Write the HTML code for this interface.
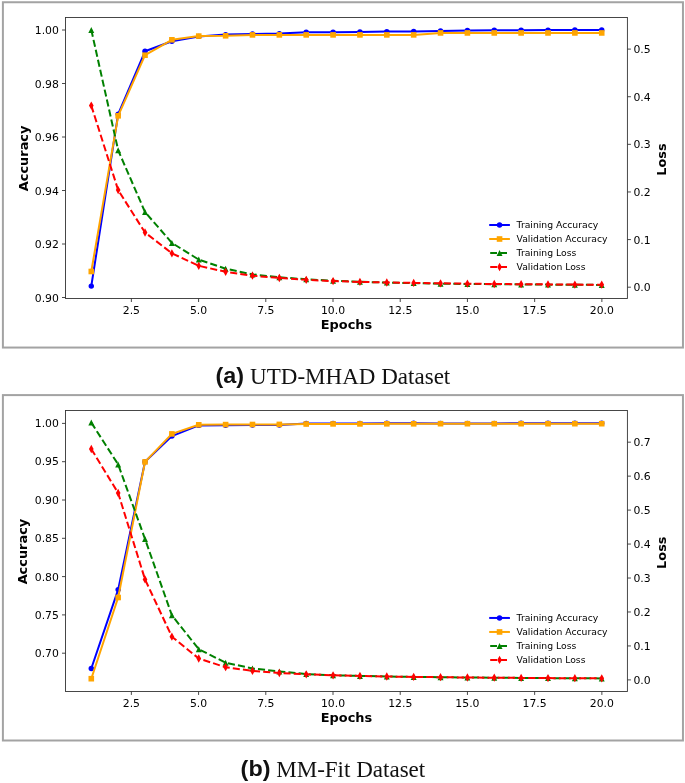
<!DOCTYPE html>
<html><head><meta charset="utf-8"><title>Training curves</title>
<style>
html,body{margin:0;padding:0;background:#fff}
svg{display:block}
.t{font-family:"DejaVu Sans","Liberation Sans",sans-serif;font-size:10.85px;fill:#000}
.g{font-family:"DejaVu Sans","Liberation Sans",sans-serif;font-size:9.25px;fill:#000}
.l{font-family:"DejaVu Sans","Liberation Sans",sans-serif;font-size:12.9px;font-weight:bold;fill:#000}
.cb{font-family:"Liberation Sans",sans-serif;font-weight:bold;font-size:21.7px;fill:#111}
.cs{font-family:"Liberation Serif",serif;font-size:23.05px;fill:#111}
</style></head><body>
<svg width="685" height="783" viewBox="0 0 685 783">
<rect width="685" height="783" fill="#fff"/>
<rect x="2.9" y="2.25" width="680.05" height="345.3" fill="#fff" stroke="#a3a3a3" stroke-width="2"/>
<rect x="65.5" y="17.5" width="561.90" height="281.00" fill="none" stroke="#333" stroke-width="0.9"/>
<text x="131.37" y="313.75" text-anchor="middle" class="t">2.5</text>
<text x="198.58" y="313.75" text-anchor="middle" class="t">5.0</text>
<text x="265.79" y="313.75" text-anchor="middle" class="t">7.5</text>
<text x="333.01" y="313.75" text-anchor="middle" class="t">10.0</text>
<text x="400.22" y="313.75" text-anchor="middle" class="t">12.5</text>
<text x="467.43" y="313.75" text-anchor="middle" class="t">15.0</text>
<text x="534.65" y="313.75" text-anchor="middle" class="t">17.5</text>
<text x="601.86" y="313.75" text-anchor="middle" class="t">20.0</text>
<text x="58.90" y="34.10" text-anchor="end" class="t">1.00</text>
<text x="58.90" y="87.60" text-anchor="end" class="t">0.98</text>
<text x="58.90" y="141.10" text-anchor="end" class="t">0.96</text>
<text x="58.90" y="194.60" text-anchor="end" class="t">0.94</text>
<text x="58.90" y="248.10" text-anchor="end" class="t">0.92</text>
<text x="58.90" y="301.60" text-anchor="end" class="t">0.90</text>
<text x="633.40" y="291.30" class="t">0.0</text>
<text x="633.40" y="243.68" class="t">0.1</text>
<text x="633.40" y="196.06" class="t">0.2</text>
<text x="633.40" y="148.44" class="t">0.3</text>
<text x="633.40" y="100.82" class="t">0.4</text>
<text x="633.40" y="53.20" class="t">0.5</text>
<path d="M131.37 298.5v3.5 M198.58 298.5v3.5 M265.79 298.5v3.5 M333.01 298.5v3.5 M400.22 298.5v3.5 M467.43 298.5v3.5 M534.65 298.5v3.5 M601.86 298.5v3.5 M65.5 30.00h-3.5 M65.5 83.50h-3.5 M65.5 137.00h-3.5 M65.5 190.50h-3.5 M65.5 244.00h-3.5 M65.5 297.50h-3.5 M627.4 287.20h3.5 M627.4 239.58h3.5 M627.4 191.96h3.5 M627.4 144.34h3.5 M627.4 96.72h3.5 M627.4 49.10h3.5" stroke="#333" stroke-width="0.9" fill="none"/>
<text x="346.45" y="329.05" text-anchor="middle" class="l">Epochs</text>
<text transform="translate(27.6 158.40) rotate(-90)" text-anchor="middle" class="l">Accuracy</text>
<text transform="translate(665.7 159.50) rotate(-90)" text-anchor="middle" class="l">Loss</text>
<path d="M91.29 286.10 L118.16 114.10 L145.02 51.30 L171.89 41.30 L198.75 36.40 L225.62 34.60 L252.48 33.90 L279.35 33.60 L306.21 32.20 L333.08 32.20 L359.94 32.00 L386.81 31.60 L413.67 31.40 L440.54 31.00 L467.40 30.50 L494.27 30.30 L521.13 30.20 L548.00 30.10 L574.86 30.05 L601.73 30.05" fill="none" stroke="#0000ff" stroke-width="2.0" stroke-linejoin="round"/>
<circle cx="91.29" cy="286.10" r="2.72" fill="#0000ff"/>
<circle cx="118.16" cy="114.10" r="2.72" fill="#0000ff"/>
<circle cx="145.02" cy="51.30" r="2.72" fill="#0000ff"/>
<circle cx="171.89" cy="41.30" r="2.72" fill="#0000ff"/>
<circle cx="198.75" cy="36.40" r="2.72" fill="#0000ff"/>
<circle cx="225.62" cy="34.60" r="2.72" fill="#0000ff"/>
<circle cx="252.48" cy="33.90" r="2.72" fill="#0000ff"/>
<circle cx="279.35" cy="33.60" r="2.72" fill="#0000ff"/>
<circle cx="306.21" cy="32.20" r="2.72" fill="#0000ff"/>
<circle cx="333.08" cy="32.20" r="2.72" fill="#0000ff"/>
<circle cx="359.94" cy="32.00" r="2.72" fill="#0000ff"/>
<circle cx="386.81" cy="31.60" r="2.72" fill="#0000ff"/>
<circle cx="413.67" cy="31.40" r="2.72" fill="#0000ff"/>
<circle cx="440.54" cy="31.00" r="2.72" fill="#0000ff"/>
<circle cx="467.40" cy="30.50" r="2.72" fill="#0000ff"/>
<circle cx="494.27" cy="30.30" r="2.72" fill="#0000ff"/>
<circle cx="521.13" cy="30.20" r="2.72" fill="#0000ff"/>
<circle cx="548.00" cy="30.10" r="2.72" fill="#0000ff"/>
<circle cx="574.86" cy="30.05" r="2.72" fill="#0000ff"/>
<circle cx="601.73" cy="30.05" r="2.72" fill="#0000ff"/>
<path d="M91.29 271.50 L118.16 115.80 L145.02 55.20 L171.89 39.80 L198.75 36.10 L225.62 35.80 L252.48 34.90 L279.35 34.90 L306.21 34.90 L333.08 34.90 L359.94 34.90 L386.81 34.90 L413.67 34.90 L440.54 32.95 L467.40 32.95 L494.27 32.95 L521.13 32.95 L548.00 32.95 L574.86 32.95 L601.73 32.95" fill="none" stroke="#ffa500" stroke-width="2.0" stroke-linejoin="round"/>
<rect x="88.49" y="268.70" width="5.6" height="5.6" fill="#ffa500"/>
<rect x="115.36" y="113.00" width="5.6" height="5.6" fill="#ffa500"/>
<rect x="142.22" y="52.40" width="5.6" height="5.6" fill="#ffa500"/>
<rect x="169.09" y="37.00" width="5.6" height="5.6" fill="#ffa500"/>
<rect x="195.95" y="33.30" width="5.6" height="5.6" fill="#ffa500"/>
<rect x="222.82" y="33.00" width="5.6" height="5.6" fill="#ffa500"/>
<rect x="249.68" y="32.10" width="5.6" height="5.6" fill="#ffa500"/>
<rect x="276.55" y="32.10" width="5.6" height="5.6" fill="#ffa500"/>
<rect x="303.41" y="32.10" width="5.6" height="5.6" fill="#ffa500"/>
<rect x="330.28" y="32.10" width="5.6" height="5.6" fill="#ffa500"/>
<rect x="357.14" y="32.10" width="5.6" height="5.6" fill="#ffa500"/>
<rect x="384.01" y="32.10" width="5.6" height="5.6" fill="#ffa500"/>
<rect x="410.87" y="32.10" width="5.6" height="5.6" fill="#ffa500"/>
<rect x="437.74" y="30.15" width="5.6" height="5.6" fill="#ffa500"/>
<rect x="464.60" y="30.15" width="5.6" height="5.6" fill="#ffa500"/>
<rect x="491.47" y="30.15" width="5.6" height="5.6" fill="#ffa500"/>
<rect x="518.33" y="30.15" width="5.6" height="5.6" fill="#ffa500"/>
<rect x="545.20" y="30.15" width="5.6" height="5.6" fill="#ffa500"/>
<rect x="572.06" y="30.15" width="5.6" height="5.6" fill="#ffa500"/>
<rect x="598.93" y="30.15" width="5.6" height="5.6" fill="#ffa500"/>
<path d="M91.29 29.90 L118.16 150.30 L145.02 212.00 L171.89 242.90 L198.75 259.60 L225.62 268.70 L252.48 274.40 L279.35 277.30 L306.21 279.30 L333.08 280.80 L359.94 281.80 L386.81 282.60 L413.67 283.10 L440.54 283.70 L467.40 284.00 L494.27 284.20 L521.13 284.40 L548.00 284.60 L574.86 284.80 L601.73 284.90" fill="none" stroke="#008000" stroke-width="2.0" stroke-linejoin="round" stroke-dasharray="7.1 3.1"/>
<path d="M91.29 26.90L88.34 32.90H94.24Z" fill="#008000"/>
<path d="M118.16 147.30L115.21 153.30H121.11Z" fill="#008000"/>
<path d="M145.02 209.00L142.07 215.00H147.97Z" fill="#008000"/>
<path d="M171.89 239.90L168.94 245.90H174.84Z" fill="#008000"/>
<path d="M198.75 256.60L195.80 262.60H201.70Z" fill="#008000"/>
<path d="M225.62 265.70L222.67 271.70H228.57Z" fill="#008000"/>
<path d="M252.48 271.40L249.53 277.40H255.43Z" fill="#008000"/>
<path d="M279.35 274.30L276.40 280.30H282.30Z" fill="#008000"/>
<path d="M306.21 276.30L303.26 282.30H309.16Z" fill="#008000"/>
<path d="M333.08 277.80L330.13 283.80H336.03Z" fill="#008000"/>
<path d="M359.94 278.80L356.99 284.80H362.89Z" fill="#008000"/>
<path d="M386.81 279.60L383.86 285.60H389.76Z" fill="#008000"/>
<path d="M413.67 280.10L410.72 286.10H416.62Z" fill="#008000"/>
<path d="M440.54 280.70L437.59 286.70H443.49Z" fill="#008000"/>
<path d="M467.40 281.00L464.45 287.00H470.35Z" fill="#008000"/>
<path d="M494.27 281.20L491.32 287.20H497.22Z" fill="#008000"/>
<path d="M521.13 281.40L518.18 287.40H524.08Z" fill="#008000"/>
<path d="M548.00 281.60L545.05 287.60H550.95Z" fill="#008000"/>
<path d="M574.86 281.80L571.91 287.80H577.81Z" fill="#008000"/>
<path d="M601.73 281.90L598.78 287.90H604.68Z" fill="#008000"/>
<path d="M91.29 105.60 L118.16 190.10 L145.02 232.50 L171.89 253.30 L198.75 265.80 L225.62 271.80 L252.48 275.70 L279.35 278.00 L306.21 279.80 L333.08 281.10 L359.94 281.90 L386.81 282.50 L413.67 282.90 L440.54 283.30 L467.40 283.70 L494.27 284.00 L521.13 284.20 L548.00 284.40 L574.86 284.60 L601.73 284.70" fill="none" stroke="#ff0000" stroke-width="2.0" stroke-linejoin="round" stroke-dasharray="7.1 3.1"/>
<path d="M91.29 101.45L88.94 105.60L91.29 109.75L93.64 105.60Z" fill="#ff0000"/>
<path d="M118.16 185.95L115.81 190.10L118.16 194.25L120.51 190.10Z" fill="#ff0000"/>
<path d="M145.02 228.35L142.67 232.50L145.02 236.65L147.37 232.50Z" fill="#ff0000"/>
<path d="M171.89 249.15L169.54 253.30L171.89 257.45L174.24 253.30Z" fill="#ff0000"/>
<path d="M198.75 261.65L196.40 265.80L198.75 269.95L201.10 265.80Z" fill="#ff0000"/>
<path d="M225.62 267.65L223.27 271.80L225.62 275.95L227.97 271.80Z" fill="#ff0000"/>
<path d="M252.48 271.55L250.13 275.70L252.48 279.85L254.83 275.70Z" fill="#ff0000"/>
<path d="M279.35 273.85L277.00 278.00L279.35 282.15L281.70 278.00Z" fill="#ff0000"/>
<path d="M306.21 275.65L303.86 279.80L306.21 283.95L308.56 279.80Z" fill="#ff0000"/>
<path d="M333.08 276.95L330.73 281.10L333.08 285.25L335.43 281.10Z" fill="#ff0000"/>
<path d="M359.94 277.75L357.59 281.90L359.94 286.05L362.29 281.90Z" fill="#ff0000"/>
<path d="M386.81 278.35L384.46 282.50L386.81 286.65L389.16 282.50Z" fill="#ff0000"/>
<path d="M413.67 278.75L411.32 282.90L413.67 287.05L416.02 282.90Z" fill="#ff0000"/>
<path d="M440.54 279.15L438.19 283.30L440.54 287.45L442.89 283.30Z" fill="#ff0000"/>
<path d="M467.40 279.55L465.05 283.70L467.40 287.85L469.75 283.70Z" fill="#ff0000"/>
<path d="M494.27 279.85L491.92 284.00L494.27 288.15L496.62 284.00Z" fill="#ff0000"/>
<path d="M521.13 280.05L518.78 284.20L521.13 288.35L523.48 284.20Z" fill="#ff0000"/>
<path d="M548.00 280.25L545.65 284.40L548.00 288.55L550.35 284.40Z" fill="#ff0000"/>
<path d="M574.86 280.45L572.51 284.60L574.86 288.75L577.21 284.60Z" fill="#ff0000"/>
<path d="M601.73 280.55L599.38 284.70L601.73 288.85L604.08 284.70Z" fill="#ff0000"/>
<path d="M489.20 225.00H509.90" stroke="#0000ff" stroke-width="2.0"/>
<circle cx="499.55" cy="225.00" r="2.72" fill="#0000ff"/>
<text x="516.6" y="228.30" class="g">Training Accuracy</text>
<path d="M489.20 239.00H509.90" stroke="#ffa500" stroke-width="2.0"/>
<rect x="496.75" y="236.20" width="5.6" height="5.6" fill="#ffa500"/>
<text x="516.6" y="242.30" class="g">Validation Accuracy</text>
<path d="M490.20 253.00H508.90" stroke="#008000" stroke-width="2.0" stroke-dasharray="6.8 3.2"/>
<path d="M499.55 250.00L496.60 256.00H502.50Z" fill="#008000"/>
<text x="516.6" y="256.30" class="g">Training Loss</text>
<path d="M490.20 267.00H508.90" stroke="#ff0000" stroke-width="2.0" stroke-dasharray="6.8 3.2"/>
<path d="M499.55 262.85L497.20 267.00L499.55 271.15L501.90 267.00Z" fill="#ff0000"/>
<text x="516.6" y="270.30" class="g">Validation Loss</text>
<text transform="translate(215.5 383.3) scale(1.078 1)" class="cb">(a)</text><text transform="translate(250.1 384.3) scale(1 1.03)" class="cs">UTD-MHAD Dataset</text>
<rect x="2.9" y="395.1" width="680.05" height="345.4" fill="#fff" stroke="#a3a3a3" stroke-width="2"/>
<rect x="65.5" y="410.5" width="561.90" height="280.95" fill="none" stroke="#333" stroke-width="0.9"/>
<text x="131.37" y="706.95" text-anchor="middle" class="t">2.5</text>
<text x="198.58" y="706.95" text-anchor="middle" class="t">5.0</text>
<text x="265.79" y="706.95" text-anchor="middle" class="t">7.5</text>
<text x="333.01" y="706.95" text-anchor="middle" class="t">10.0</text>
<text x="400.22" y="706.95" text-anchor="middle" class="t">12.5</text>
<text x="467.43" y="706.95" text-anchor="middle" class="t">15.0</text>
<text x="534.65" y="706.95" text-anchor="middle" class="t">17.5</text>
<text x="601.86" y="706.95" text-anchor="middle" class="t">20.0</text>
<text x="58.90" y="426.90" text-anchor="end" class="t">1.00</text>
<text x="58.90" y="465.40" text-anchor="end" class="t">0.95</text>
<text x="58.90" y="504.10" text-anchor="end" class="t">0.90</text>
<text x="58.90" y="542.40" text-anchor="end" class="t">0.85</text>
<text x="58.90" y="580.70" text-anchor="end" class="t">0.80</text>
<text x="58.90" y="619.00" text-anchor="end" class="t">0.75</text>
<text x="58.90" y="657.30" text-anchor="end" class="t">0.70</text>
<text x="633.40" y="684.00" class="t">0.0</text>
<text x="633.40" y="650.04" class="t">0.1</text>
<text x="633.40" y="616.08" class="t">0.2</text>
<text x="633.40" y="582.12" class="t">0.3</text>
<text x="633.40" y="548.16" class="t">0.4</text>
<text x="633.40" y="514.20" class="t">0.5</text>
<text x="633.40" y="480.24" class="t">0.6</text>
<text x="633.40" y="446.28" class="t">0.7</text>
<path d="M131.37 691.45v3.5 M198.58 691.45v3.5 M265.79 691.45v3.5 M333.01 691.45v3.5 M400.22 691.45v3.5 M467.43 691.45v3.5 M534.65 691.45v3.5 M601.86 691.45v3.5 M65.5 423.40h-3.5 M65.5 461.70h-3.5 M65.5 500.00h-3.5 M65.5 538.30h-3.5 M65.5 576.60h-3.5 M65.5 614.90h-3.5 M65.5 653.20h-3.5 M627.4 679.90h3.5 M627.4 645.94h3.5 M627.4 611.98h3.5 M627.4 578.02h3.5 M627.4 544.06h3.5 M627.4 510.10h3.5 M627.4 476.14h3.5 M627.4 442.18h3.5" stroke="#333" stroke-width="0.9" fill="none"/>
<text x="346.45" y="722.25" text-anchor="middle" class="l">Epochs</text>
<text transform="translate(27.1 551.60) rotate(-90)" text-anchor="middle" class="l">Accuracy</text>
<text transform="translate(665.7 552.70) rotate(-90)" text-anchor="middle" class="l">Loss</text>
<path d="M91.29 668.50 L118.16 589.60 L145.02 461.80 L171.89 436.10 L198.75 425.40 L225.62 425.20 L252.48 425.10 L279.35 425.00 L306.21 423.50 L333.08 423.40 L359.94 423.40 L386.81 423.30 L413.67 423.30 L440.54 423.40 L467.40 423.40 L494.27 423.40 L521.13 423.30 L548.00 423.20 L574.86 423.20 L601.73 423.20" fill="none" stroke="#0000ff" stroke-width="2.0" stroke-linejoin="round"/>
<circle cx="91.29" cy="668.50" r="2.72" fill="#0000ff"/>
<circle cx="118.16" cy="589.60" r="2.72" fill="#0000ff"/>
<circle cx="145.02" cy="461.80" r="2.72" fill="#0000ff"/>
<circle cx="171.89" cy="436.10" r="2.72" fill="#0000ff"/>
<circle cx="198.75" cy="425.40" r="2.72" fill="#0000ff"/>
<circle cx="225.62" cy="425.20" r="2.72" fill="#0000ff"/>
<circle cx="252.48" cy="425.10" r="2.72" fill="#0000ff"/>
<circle cx="279.35" cy="425.00" r="2.72" fill="#0000ff"/>
<circle cx="306.21" cy="423.50" r="2.72" fill="#0000ff"/>
<circle cx="333.08" cy="423.40" r="2.72" fill="#0000ff"/>
<circle cx="359.94" cy="423.40" r="2.72" fill="#0000ff"/>
<circle cx="386.81" cy="423.30" r="2.72" fill="#0000ff"/>
<circle cx="413.67" cy="423.30" r="2.72" fill="#0000ff"/>
<circle cx="440.54" cy="423.40" r="2.72" fill="#0000ff"/>
<circle cx="467.40" cy="423.40" r="2.72" fill="#0000ff"/>
<circle cx="494.27" cy="423.40" r="2.72" fill="#0000ff"/>
<circle cx="521.13" cy="423.30" r="2.72" fill="#0000ff"/>
<circle cx="548.00" cy="423.20" r="2.72" fill="#0000ff"/>
<circle cx="574.86" cy="423.20" r="2.72" fill="#0000ff"/>
<circle cx="601.73" cy="423.20" r="2.72" fill="#0000ff"/>
<path d="M91.29 678.70 L118.16 597.50 L145.02 461.90 L171.89 433.90 L198.75 424.80 L225.62 424.60 L252.48 424.50 L279.35 424.40 L306.21 424.00 L333.08 423.90 L359.94 423.90 L386.81 423.80 L413.67 423.80 L440.54 423.70 L467.40 423.70 L494.27 423.70 L521.13 423.70 L548.00 423.70 L574.86 423.70 L601.73 423.70" fill="none" stroke="#ffa500" stroke-width="2.0" stroke-linejoin="round"/>
<rect x="88.49" y="675.90" width="5.6" height="5.6" fill="#ffa500"/>
<rect x="115.36" y="594.70" width="5.6" height="5.6" fill="#ffa500"/>
<rect x="142.22" y="459.10" width="5.6" height="5.6" fill="#ffa500"/>
<rect x="169.09" y="431.10" width="5.6" height="5.6" fill="#ffa500"/>
<rect x="195.95" y="422.00" width="5.6" height="5.6" fill="#ffa500"/>
<rect x="222.82" y="421.80" width="5.6" height="5.6" fill="#ffa500"/>
<rect x="249.68" y="421.70" width="5.6" height="5.6" fill="#ffa500"/>
<rect x="276.55" y="421.60" width="5.6" height="5.6" fill="#ffa500"/>
<rect x="303.41" y="421.20" width="5.6" height="5.6" fill="#ffa500"/>
<rect x="330.28" y="421.10" width="5.6" height="5.6" fill="#ffa500"/>
<rect x="357.14" y="421.10" width="5.6" height="5.6" fill="#ffa500"/>
<rect x="384.01" y="421.00" width="5.6" height="5.6" fill="#ffa500"/>
<rect x="410.87" y="421.00" width="5.6" height="5.6" fill="#ffa500"/>
<rect x="437.74" y="420.90" width="5.6" height="5.6" fill="#ffa500"/>
<rect x="464.60" y="420.90" width="5.6" height="5.6" fill="#ffa500"/>
<rect x="491.47" y="420.90" width="5.6" height="5.6" fill="#ffa500"/>
<rect x="518.33" y="420.90" width="5.6" height="5.6" fill="#ffa500"/>
<rect x="545.20" y="420.90" width="5.6" height="5.6" fill="#ffa500"/>
<rect x="572.06" y="420.90" width="5.6" height="5.6" fill="#ffa500"/>
<rect x="598.93" y="420.90" width="5.6" height="5.6" fill="#ffa500"/>
<path d="M91.29 422.60 L118.16 464.40 L145.02 539.00 L171.89 615.30 L198.75 649.20 L225.62 662.70 L252.48 668.40 L279.35 671.40 L306.21 674.10 L333.08 675.30 L359.94 675.90 L386.81 676.50 L413.67 676.90 L440.54 677.20 L467.40 677.50 L494.27 677.70 L521.13 677.90 L548.00 678.10 L574.86 678.30 L601.73 678.40" fill="none" stroke="#008000" stroke-width="2.0" stroke-linejoin="round" stroke-dasharray="7.1 3.1"/>
<path d="M91.29 419.60L88.34 425.60H94.24Z" fill="#008000"/>
<path d="M118.16 461.40L115.21 467.40H121.11Z" fill="#008000"/>
<path d="M145.02 536.00L142.07 542.00H147.97Z" fill="#008000"/>
<path d="M171.89 612.30L168.94 618.30H174.84Z" fill="#008000"/>
<path d="M198.75 646.20L195.80 652.20H201.70Z" fill="#008000"/>
<path d="M225.62 659.70L222.67 665.70H228.57Z" fill="#008000"/>
<path d="M252.48 665.40L249.53 671.40H255.43Z" fill="#008000"/>
<path d="M279.35 668.40L276.40 674.40H282.30Z" fill="#008000"/>
<path d="M306.21 671.10L303.26 677.10H309.16Z" fill="#008000"/>
<path d="M333.08 672.30L330.13 678.30H336.03Z" fill="#008000"/>
<path d="M359.94 672.90L356.99 678.90H362.89Z" fill="#008000"/>
<path d="M386.81 673.50L383.86 679.50H389.76Z" fill="#008000"/>
<path d="M413.67 673.90L410.72 679.90H416.62Z" fill="#008000"/>
<path d="M440.54 674.20L437.59 680.20H443.49Z" fill="#008000"/>
<path d="M467.40 674.50L464.45 680.50H470.35Z" fill="#008000"/>
<path d="M494.27 674.70L491.32 680.70H497.22Z" fill="#008000"/>
<path d="M521.13 674.90L518.18 680.90H524.08Z" fill="#008000"/>
<path d="M548.00 675.10L545.05 681.10H550.95Z" fill="#008000"/>
<path d="M574.86 675.30L571.91 681.30H577.81Z" fill="#008000"/>
<path d="M601.73 675.40L598.78 681.40H604.68Z" fill="#008000"/>
<path d="M91.29 449.00 L118.16 493.00 L145.02 579.40 L171.89 636.70 L198.75 658.50 L225.62 667.20 L252.48 670.90 L279.35 673.00 L306.21 674.30 L333.08 675.30 L359.94 675.90 L386.81 676.50 L413.67 676.90 L440.54 677.20 L467.40 677.50 L494.27 677.70 L521.13 677.90 L548.00 678.10 L574.86 678.20 L601.73 678.30" fill="none" stroke="#ff0000" stroke-width="2.0" stroke-linejoin="round" stroke-dasharray="7.1 3.1"/>
<path d="M91.29 444.85L88.94 449.00L91.29 453.15L93.64 449.00Z" fill="#ff0000"/>
<path d="M118.16 488.85L115.81 493.00L118.16 497.15L120.51 493.00Z" fill="#ff0000"/>
<path d="M145.02 575.25L142.67 579.40L145.02 583.55L147.37 579.40Z" fill="#ff0000"/>
<path d="M171.89 632.55L169.54 636.70L171.89 640.85L174.24 636.70Z" fill="#ff0000"/>
<path d="M198.75 654.35L196.40 658.50L198.75 662.65L201.10 658.50Z" fill="#ff0000"/>
<path d="M225.62 663.05L223.27 667.20L225.62 671.35L227.97 667.20Z" fill="#ff0000"/>
<path d="M252.48 666.75L250.13 670.90L252.48 675.05L254.83 670.90Z" fill="#ff0000"/>
<path d="M279.35 668.85L277.00 673.00L279.35 677.15L281.70 673.00Z" fill="#ff0000"/>
<path d="M306.21 670.15L303.86 674.30L306.21 678.45L308.56 674.30Z" fill="#ff0000"/>
<path d="M333.08 671.15L330.73 675.30L333.08 679.45L335.43 675.30Z" fill="#ff0000"/>
<path d="M359.94 671.75L357.59 675.90L359.94 680.05L362.29 675.90Z" fill="#ff0000"/>
<path d="M386.81 672.35L384.46 676.50L386.81 680.65L389.16 676.50Z" fill="#ff0000"/>
<path d="M413.67 672.75L411.32 676.90L413.67 681.05L416.02 676.90Z" fill="#ff0000"/>
<path d="M440.54 673.05L438.19 677.20L440.54 681.35L442.89 677.20Z" fill="#ff0000"/>
<path d="M467.40 673.35L465.05 677.50L467.40 681.65L469.75 677.50Z" fill="#ff0000"/>
<path d="M494.27 673.55L491.92 677.70L494.27 681.85L496.62 677.70Z" fill="#ff0000"/>
<path d="M521.13 673.75L518.78 677.90L521.13 682.05L523.48 677.90Z" fill="#ff0000"/>
<path d="M548.00 673.95L545.65 678.10L548.00 682.25L550.35 678.10Z" fill="#ff0000"/>
<path d="M574.86 674.05L572.51 678.20L574.86 682.35L577.21 678.20Z" fill="#ff0000"/>
<path d="M601.73 674.15L599.38 678.30L601.73 682.45L604.08 678.30Z" fill="#ff0000"/>
<path d="M489.20 617.95H509.90" stroke="#0000ff" stroke-width="2.0"/>
<circle cx="499.55" cy="617.95" r="2.72" fill="#0000ff"/>
<text x="516.6" y="621.25" class="g">Training Accuracy</text>
<path d="M489.20 631.95H509.90" stroke="#ffa500" stroke-width="2.0"/>
<rect x="496.75" y="629.15" width="5.6" height="5.6" fill="#ffa500"/>
<text x="516.6" y="635.25" class="g">Validation Accuracy</text>
<path d="M490.20 645.95H508.90" stroke="#008000" stroke-width="2.0" stroke-dasharray="6.8 3.2"/>
<path d="M499.55 642.95L496.60 648.95H502.50Z" fill="#008000"/>
<text x="516.6" y="649.25" class="g">Training Loss</text>
<path d="M490.20 659.95H508.90" stroke="#ff0000" stroke-width="2.0" stroke-dasharray="6.8 3.2"/>
<path d="M499.55 655.80L497.20 659.95L499.55 664.10L501.90 659.95Z" fill="#ff0000"/>
<text x="516.6" y="663.25" class="g">Validation Loss</text>
<text transform="translate(240.6 775.8) scale(1.078 1)" class="cb">(b)</text><text transform="translate(276.2 776.9) scale(1 1.03)" class="cs">MM-Fit Dataset</text>
</svg>
</body></html>
